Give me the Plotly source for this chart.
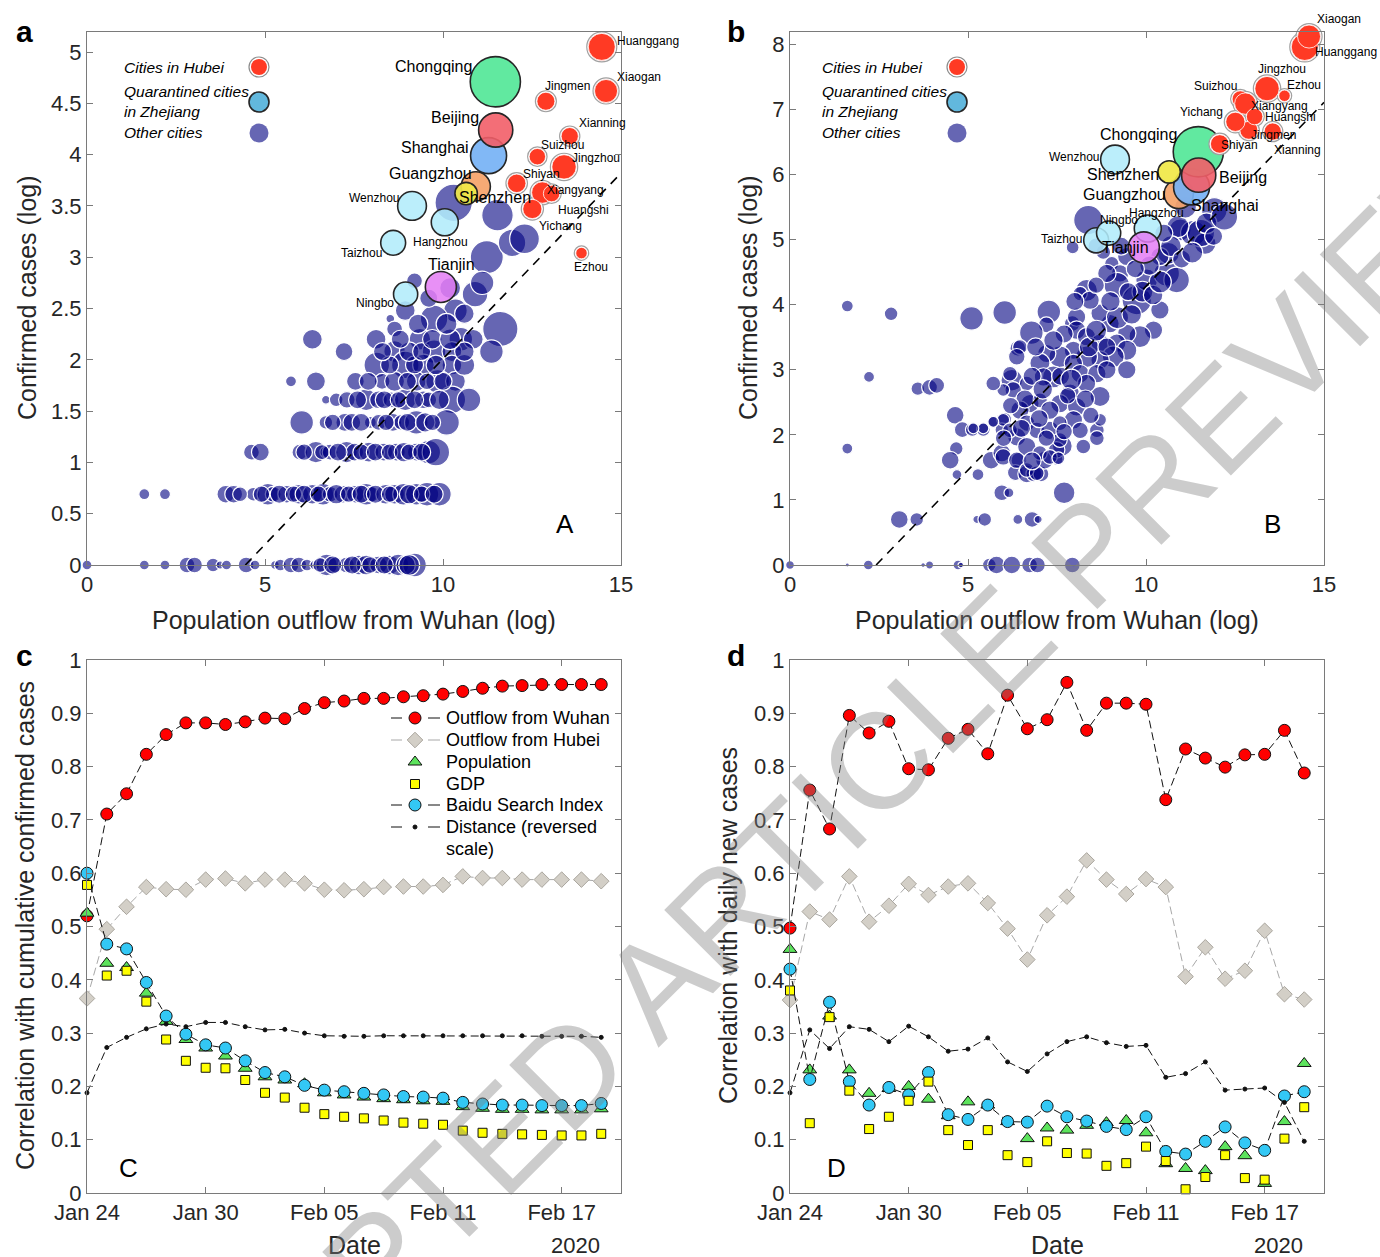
import numpy as np
import pandas as pd
import plotly.graph_objects as go

W, H = 1380, 1257
FONT = "Liberation Sans, Arial, Helvetica, sans-serif"
INK = "#262626"
AXIS = "#7a7a7a"

# ---------------- panels a / b : city-level data ----------------
# log outflow from Wuhan (shared), log confirmed cases (a and b), population (millions)
hubei_names = ["Huanggang", "Xiaogan", "Jingmen", "Xianning", "Suizhou", "Jingzhou",
               "Shiyan", "Xiangyang", "Huangshi", "Yichang", "Ezhou"]
hubei_outflow = [14.46, 14.58, 12.89, 13.56, 12.65, 13.40, 12.07, 12.79, 13.05, 12.51, 13.89]
hubei_cases_a = [5.05, 4.62, 4.52, 4.18, 3.98, 3.88, 3.72, 3.63, 3.62, 3.47, 3.04]
hubei_cases_b = [7.96, 8.12, 6.68, 6.66, 7.16, 7.32, 6.47, 7.09, 6.89, 6.81, 7.21]
hubei_pop = [8.1, 5.9, 3.6, 3.3, 3.0, 6.6, 3.8, 5.1, 3.0, 4.1, 1.45]

zj_names = ["Wenzhou", "Hangzhou", "Taizhou", "Ningbo"]
zj_outflow = [9.13, 10.05, 8.60, 8.95]
zj_cases_a = [3.50, 3.34, 3.14, 2.64]
zj_cases_b = [6.23, 5.17, 4.99, 5.10]
zj_pop = [9.2, 8.1, 6.9, 6.5]

big_names = ["Tianjin", "Guangzhou", "Shanghai", "Chongqing", "Shenzhen", "Beijing"]
big_outflow = [9.94, 10.92, 11.28, 11.47, 10.65, 11.48]
big_cases_a = [2.71, 3.69, 3.99, 4.71, 3.62, 4.24]
big_cases_b = [4.88, 5.70, 5.81, 6.35, 6.04, 5.99]
big_pop = [10.7, 9.5, 14.4, 28.0, 5.6, 13.0]

# other cities, panel a
other_a_x = [10.30, 11.53, 11.23, 11.94, 12.29, 9.20, 10.90, 8.94, 10.35, 9.75, 8.52, 11.61, 8.64,
             10.50, 10.85, 8.12, 9.35, 6.33, 11.36, 7.22, 8.64, 9.75, 10.25,
             8.14, 8.94, 9.45, 10.25,
             5.73, 6.43, 7.54, 8.29, 8.64, 9.25, 9.85, 10.35,
             6.71, 7.00, 7.84, 8.19, 8.54, 8.94, 9.45, 9.60, 10.25, 10.73,
             6.03, 6.71, 7.24, 7.44, 7.96, 8.19, 8.59, 8.84, 9.25, 10.10,
             4.62, 4.87, 5.98, 6.43, 6.71, 6.83, 7.29, 7.52, 7.92, 8.34, 8.69, 9.25, 9.60, 9.80,
             1.61, 2.19, 3.90, 4.12, 4.67, 5.08, 5.23, 5.61, 5.95, 6.33, 6.63, 6.83, 7.19, 7.54,
             7.84, 7.99, 8.39, 8.64, 8.89, 9.25, 9.55, 9.90,
             0.00, 1.61, 2.19, 2.81, 3.02, 3.54, 3.74, 3.92, 4.47, 4.72, 5.28, 5.43, 5.73, 5.95,
             6.18, 6.40, 6.73, 6.98, 7.29, 7.64, 7.84, 8.19, 8.49, 8.74, 9.20,
             4.30, 4.90, 5.40, 5.80, 6.10, 6.50, 7.00, 7.35, 7.70, 8.10, 8.50, 9.05, 9.40, 9.75,
             6.10, 6.60, 7.05, 7.70, 8.10, 8.50, 8.90, 9.05, 9.40,
             6.90, 7.70, 8.40, 9.00, 9.50, 9.70,
             7.30, 7.60, 8.35, 8.75, 9.20, 9.90,
             7.90, 9.00, 9.55, 10.00,
             8.50, 9.20, 9.80, 10.60,
             8.30, 9.05, 9.40, 10.60,
             8.80, 9.70, 10.20,
             9.30, 10.10, 10.60, 9.60, 10.20, 11.10,
             6.55, 6.90, 7.45, 7.95, 8.35, 8.95, 9.05]
other_a_y = [3.53, 3.41, 3.00, 3.14, 3.18, 2.77, 2.64, 2.48, 2.48, 2.40, 2.40, 2.30, 2.30,
             2.20, 2.20, 2.20, 2.20, 2.20, 2.08, 2.08, 2.08, 2.08, 2.08,
             1.95, 1.95, 1.95, 1.95,
             1.79, 1.79, 1.79, 1.79, 1.79, 1.79, 1.79, 1.79,
             1.61, 1.61, 1.61, 1.61, 1.61, 1.61, 1.61, 1.61, 1.61, 1.61,
             1.39, 1.39, 1.39, 1.39, 1.39, 1.39, 1.39, 1.39, 1.39, 1.39,
             1.10, 1.10, 1.10, 1.10, 1.10, 1.10, 1.10, 1.10, 1.10, 1.10, 1.10, 1.10, 1.10, 1.10,
             0.69, 0.69, 0.69, 0.69, 0.69, 0.69, 0.69, 0.69, 0.69, 0.69, 0.69, 0.69, 0.69, 0.69,
             0.69, 0.69, 0.69, 0.69, 0.69, 0.69, 0.69, 0.69,
             0, 0, 0, 0, 0, 0, 0, 0, 0, 0, 0, 0, 0, 0,
             0, 0, 0, 0, 0, 0, 0, 0, 0, 0, 0,
             0.69, 0.69, 0.69, 0.69, 0.69, 0.69, 0.69, 0.69, 0.69, 0.69, 0.69, 0.69, 0.69, 0.69,
             1.10, 1.10, 1.10, 1.10, 1.10, 1.10, 1.10, 1.10, 1.10,
             1.39, 1.39, 1.39, 1.39, 1.39, 1.39,
             1.61, 1.61, 1.61, 1.61, 1.61, 1.61,
             1.79, 1.79, 1.79, 1.79,
             1.95, 1.95, 1.95, 1.95,
             2.08, 2.08, 2.08, 2.08,
             2.20, 2.20, 2.20,
             2.35, 2.35, 2.45, 2.60, 2.70, 2.75,
             0, 0, 0, 0, 0, 0, 0]
other_a_pop = [12.8, 9.1, 10.0, 6.9, 8.1, 2.3, 6.0, 3.6, 5.1, 6.9, 0.7, 11.4, 2.3,
               5.1, 3.6, 3.6, 4.3, 3.6, 5.1, 2.9, 4.3, 5.1, 3.6,
               6.0, 6.9, 4.3, 3.6,
               1.1, 3.3, 2.9, 2.3, 3.6, 3.6, 5.1, 3.6,
               0.7, 1.7, 4.3, 2.9, 2.3, 4.3, 2.9, 2.3, 6.9, 5.1,
               5.1, 1.7, 2.9, 2.9, 1.3, 2.3, 2.9, 2.3, 5.1, 6.0,
               2.3, 2.9, 2.3, 4.3, 1.3, 2.3, 4.3, 2.9, 3.6, 2.9, 2.9, 2.9, 5.1, 6.9,
               1.1, 1.1, 2.9, 2.9, 1.7, 4.3, 2.3, 2.9, 3.6, 3.6, 4.3, 2.3, 2.9, 2.9,
               4.3, 2.3, 3.6, 3.6, 4.3, 4.3, 5.1, 5.1,
               0.9, 0.9, 0.9, 2.3, 2.3, 1.7, 0.6, 0.9, 2.3, 0.9, 0.7, 1.3, 2.3, 2.3,
               1.3, 0.9, 4.3, 2.3, 2.3, 3.6, 3.6, 2.9, 3.6, 4.3, 5.1,
               2.0, 2.5, 3.0, 2.5, 3.0, 2.5, 3.5, 2.5, 3.0, 3.0, 2.5, 3.5, 2.5, 3.0,
               2.5, 2.0, 3.0, 2.5, 3.0, 2.5, 3.5, 2.5, 3.0,
               2.5, 3.0, 2.5, 3.0, 3.5, 2.5,
               2.5, 3.0, 3.0, 2.5, 3.0, 3.5,
               3.0, 3.0, 2.5, 3.0,
               3.0, 3.0, 3.5, 4.0,
               3.0, 3.5, 3.0, 3.5,
               3.0, 3.5, 4.0,
               3.5, 4.0, 3.5, 3.0, 4.0, 5.0,
               2.0, 3.0, 3.0, 2.5, 3.0, 3.5, 4.0]

# other cities, panel b
other_b_x = [1.61, 2.84, 5.10, 6.03, 7.27, 7.20, 6.78, 7.93,
             2.22, 3.59, 3.92, 4.12, 1.61,
             4.64, 4.84, 5.12, 5.43, 5.73, 6.03, 5.95, 6.23, 6.40,
             4.67, 4.50, 4.69, 5.28, 5.65, 5.95, 6.43, 6.33, 6.65, 6.85, 7.05, 7.15, 7.50, 7.65,
             5.95, 6.15, 7.70,
             3.07, 3.56, 5.25, 5.47, 6.40, 6.80, 6.97,
             0.00, 1.61, 2.20, 3.74, 3.92, 4.72, 4.80, 5.60, 5.80, 6.23, 6.73, 6.95, 7.93,
             8.38, 7.94, 8.33, 8.15, 9.04, 9.27, 9.18, 9.74, 10.02, 10.58, 10.86, 10.63, 10.96,
             11.33, 11.66, 10.39, 10.21, 9.83, 9.46, 8.99, 8.71, 8.43, 8.05, 8.05, 8.33, 8.71,
             9.18, 9.46, 9.08, 8.71, 8.33, 7.96, 7.58, 7.21, 6.46, 6.37, 7.02, 7.40, 7.96, 8.15,
             8.62, 8.90, 9.46, 8.71, 8.33, 7.87, 7.58, 8.05, 7.96, 8.15, 8.62, 8.62, 8.24, 7.12,
             6.65, 6.27, 6.18, 6.74, 7.02, 7.30, 6.46, 6.65, 6.93, 7.30, 7.58, 6.37, 6.65, 7.02,
             7.49, 7.58, 5.99, 5.71, 5.43, 5.15, 6.18, 5.99, 6.37, 6.65, 7.30, 7.54, 6.93, 8.71,
             5.99, 5.71, 9.46, 8.90, 8.80, 10.39,
             11.92, 11.54, 10.90, 11.11,
             6.80, 7.10, 7.60, 7.90, 8.40, 8.60, 8.90, 9.20, 9.60, 9.90, 10.20, 10.40, 9.50, 9.00,
             8.60, 8.00, 7.70, 7.40, 6.90, 6.60, 6.20, 6.00, 6.50, 7.00, 7.80, 8.30, 8.45, 7.70,
             6.80, 7.20, 10.70, 10.10, 9.70, 11.00, 11.30, 10.50, 11.70, 12.20, 11.90, 9.30, 8.60]
other_b_y = [3.98, 3.86, 3.79, 3.88, 3.89, 3.69, 3.57, 3.71,
             2.89, 2.71, 2.73, 2.76, 1.79,
             2.30, 2.08, 2.08, 2.08, 2.20, 2.24, 2.08, 2.84, 3.33,
             1.79, 1.61, 1.39, 1.39, 1.61, 1.72, 1.61, 1.42, 1.40, 1.40, 1.40, 1.61, 1.62, 1.83,
             1.11, 1.11, 1.11,
             0.70, 0.70, 0.70, 0.70, 0.70, 0.70, 0.70,
             0, 0, 0, 0, 0, 0, 0, 0, 0, 0, 0, 0, 0,
             5.30, 4.88, 4.22, 4.17, 4.63, 4.48, 4.30, 4.07, 4.38, 4.48, 4.38, 4.79, 5.15,
             5.10, 4.94, 3.92, 3.61, 3.51, 3.56, 3.71, 3.87, 4.07, 3.81, 3.61, 3.51, 3.41,
             3.41, 3.30, 3.20, 3.15, 3.20, 3.30, 3.20, 3.25, 3.35, 3.20, 3.10, 2.89, 3.10, 2.94,
             2.94, 3.00, 3.00, 2.59, 2.79, 2.64, 2.48, 2.43, 2.23, 2.07, 2.07, 1.95, 1.82, 2.89,
             2.79, 2.69, 2.94, 2.48, 2.53, 2.38, 2.38, 2.18, 2.07, 2.07, 2.18, 1.97, 1.82, 1.72,
             1.77, 1.92, 2.23, 2.20, 2.10, 2.10, 2.07, 1.66, 1.61, 1.46, 1.66, 1.64, 1.41, 2.23,
             2.69, 2.79, 4.74, 4.48, 4.81, 4.74,
             5.45, 5.10, 5.20, 5.50,
             2.90, 2.70, 2.90, 2.85, 3.35, 3.60, 3.35, 3.80, 3.85, 4.20, 4.15, 4.35, 4.20, 4.05,
             4.30, 4.05, 3.55, 3.45, 3.35, 2.55, 2.45, 1.95, 2.10, 2.25, 2.60, 2.55, 2.30, 2.05,
             1.60, 1.95, 4.90, 4.60, 4.55, 4.70, 4.80, 5.10, 5.25, 5.35, 5.05, 4.90, 4.90]
other_b_pop = [1.3, 1.7, 5.1, 5.1, 5.1, 2.3, 5.1, 2.3,
               1.1, 1.7, 2.3, 2.3, 1.1,
               2.9, 2.3, 1.7, 1.7, 1.3, 1.7, 1.7, 4.3, 2.3,
               1.7, 2.9, 0.9, 1.3, 2.9, 2.9, 2.3, 2.3, 2.9, 2.3, 2.3, 2.9, 1.3, 3.6,
               2.3, 0.9, 4.3,
               2.9, 1.7, 0.6, 1.7, 0.9, 2.3, 0.6,
               0.7, 0.15, 0.9, 0.2, 0.6, 0.9, 0.3, 1.7, 2.9, 2.9, 2.3, 2.3, 2.3,
               7.9, 1.5, 4.4, 1.9, 1.9, 2.8, 6.0, 7.9, 4.4, 6.0, 6.0, 4.4, 4.4,
               6.0, 4.4, 3.1, 3.1, 4.4, 3.1, 3.1, 3.1, 3.1, 3.1, 3.1, 3.1, 3.1,
               3.1, 3.7, 4.4, 3.1, 4.4, 3.1, 4.4, 3.1, 2.0, 2.5, 3.7, 4.4, 3.1, 3.1,
               3.1, 3.1, 3.1, 3.7, 3.1, 3.1, 3.1, 3.1, 3.1, 2.5, 2.0, 2.0, 2.0, 3.1,
               2.0, 2.5, 2.0, 3.1, 2.0, 3.1, 3.1, 2.5, 2.5, 3.1, 2.0, 3.1, 3.1, 2.0,
               2.5, 2.0, 1.5, 1.1, 1.1, 1.1, 2.0, 2.5, 2.5, 2.0, 2.0, 1.5, 2.0, 1.5,
               1.5, 2.0, 3.1, 3.1, 2.0, 3.1,
               6.0, 6.9, 4.4, 4.4,
               3.0, 3.5, 3.0, 4.0, 3.5, 4.0, 3.0, 4.5, 3.5, 4.0, 3.5, 4.5, 3.0, 3.5,
               2.5, 3.0, 3.0, 3.5, 3.0, 3.0, 2.5, 2.5, 3.0, 3.0, 2.5, 3.0, 2.5, 2.5,
               3.0, 2.5, 4.0, 3.5, 3.0, 3.0, 4.0, 3.0, 4.0, 6.5, 3.0, 3.0, 2.5]

# linear fits (slope, intercept) drawn as dashed lines
fit_a = (0.362, -1.61)
fit_b = (0.565, -1.367)

# ---------------- panels c / d : daily correlations ----------------
dates = pd.date_range("2020-01-24", "2020-02-19", freq="D")

cum_wuhan = [0.520, 0.711, 0.749, 0.823, 0.860, 0.882, 0.882, 0.879, 0.884, 0.891, 0.890, 0.909, 0.920,
             0.923, 0.928, 0.928, 0.931, 0.933, 0.936, 0.941, 0.947, 0.951, 0.952, 0.954, 0.954, 0.954, 0.954]
cum_hubei = [0.365, 0.495, 0.537, 0.574, 0.570, 0.569, 0.588, 0.590, 0.581, 0.588, 0.588, 0.581, 0.569,
             0.568, 0.570, 0.574, 0.575, 0.575, 0.578, 0.594, 0.591, 0.591, 0.588, 0.588, 0.588, 0.588, 0.585]
cum_pop = [0.525, 0.431, 0.423, 0.375, 0.322, 0.288, 0.272, 0.257, 0.234, 0.218, 0.212, 0.205, 0.188,
           0.184, 0.180, 0.177, 0.175, 0.173, 0.172, 0.162, 0.159, 0.157, 0.157, 0.156, 0.156, 0.156, 0.158]
cum_gdp = [0.578, 0.408, 0.417, 0.359, 0.288, 0.248, 0.235, 0.234, 0.212, 0.188, 0.179, 0.160, 0.148,
           0.143, 0.140, 0.136, 0.132, 0.130, 0.128, 0.117, 0.113, 0.111, 0.110, 0.109, 0.108, 0.108, 0.111]
cum_baidu = [0.600, 0.467, 0.458, 0.395, 0.332, 0.298, 0.278, 0.272, 0.248, 0.226, 0.218, 0.202, 0.193,
             0.190, 0.187, 0.184, 0.181, 0.180, 0.178, 0.170, 0.167, 0.165, 0.165, 0.164, 0.164, 0.164, 0.168]
cum_dist = [0.188, 0.273, 0.292, 0.308, 0.317, 0.312, 0.320, 0.320, 0.312, 0.306, 0.307, 0.300, 0.295,
            0.294, 0.294, 0.295, 0.295, 0.295, 0.295, 0.295, 0.295, 0.295, 0.295, 0.294, 0.294, 0.294, 0.292]

new_wuhan = [0.497, 0.756, 0.683, 0.896, 0.863, 0.885, 0.796, 0.794, 0.853, 0.870, 0.824, 0.934, 0.871,
             0.888, 0.958, 0.868, 0.919, 0.919, 0.917, 0.738, 0.833, 0.816, 0.799, 0.822, 0.823, 0.868, 0.788]
new_hubei = [0.362, 0.528, 0.513, 0.594, 0.509, 0.539, 0.580, 0.559, 0.575, 0.581, 0.544, 0.496, 0.438,
             0.521, 0.556, 0.624, 0.588, 0.561, 0.589, 0.574, 0.406, 0.461, 0.402, 0.417, 0.492, 0.373, 0.363]
new_pop = [0.457, 0.231, 0.332, 0.231, 0.187, 0.196, 0.200, 0.176, 0.145, 0.171, 0.165, 0.134, 0.102,
           0.122, 0.118, 0.127, 0.132, 0.136, 0.113, 0.055, 0.046, 0.042, 0.087, 0.070, 0.018, 0.134, 0.243]
new_gdp = [0.380, 0.131, 0.330, 0.192, 0.120, 0.143, 0.173, 0.209, 0.118, 0.090, 0.118, 0.071, 0.058,
           0.097, 0.075, 0.074, 0.051, 0.056, 0.087, 0.060, 0.007, 0.030, 0.071, 0.028, 0.025, 0.102, 0.161]
new_baidu = [0.420, 0.213, 0.358, 0.209, 0.165, 0.198, 0.184, 0.226, 0.147, 0.138, 0.165, 0.134, 0.133,
             0.163, 0.143, 0.135, 0.125, 0.119, 0.143, 0.078, 0.073, 0.097, 0.124, 0.094, 0.080, 0.182, 0.190]
new_dist = [0.188, 0.306, 0.271, 0.312, 0.307, 0.284, 0.313, 0.293, 0.266, 0.270, 0.291, 0.246, 0.228,
            0.261, 0.284, 0.293, 0.282, 0.275, 0.277, 0.217, 0.224, 0.246, 0.193, 0.195, 0.197, 0.170, 0.097]

# ---------------- styles ----------------
BIG_COLORS = {"Tianjin": "rgba(228,125,245,0.85)", "Guangzhou": "rgba(245,163,105,0.92)",
              "Shanghai": "rgba(118,178,245,0.92)", "Chongqing": "rgba(88,232,155,0.95)",
              "Shenzhen": "rgba(240,232,70,0.92)", "Beijing": "rgba(242,94,104,0.9)"}
BIG_LABELS = {"Tianjin", "Guangzhou", "Shanghai", "Chongqing", "Shenzhen", "Beijing"}
OTHER_SCALE = 1.1  # bubble diameter factor for the "other cities" layer

# label placement: name -> (xanchor, xshift px, yshift px)
LABELS_A = {
    "Huanggang": ("left", 14, 6), "Xiaogan": ("left", 10, 14), "Jingmen": ("center", 22, 15),
    "Xianning": ("left", 8, 13), "Suizhou": ("left", 3, 12), "Jingzhou": ("left", 7, 9),
    "Shiyan": ("left", 5, 9), "Xiangyang": ("left", 4, 3), "Huangshi": ("left", 5, -16),
    "Yichang": ("left", 6, -17), "Ezhou": ("center", 10, -14),
    "Chongqing": ("right", -22, 15), "Beijing": ("right", -16, 12), "Shanghai": ("right", -19, 8),
    "Guangzhou": ("right", -3, 13), "Shenzhen": ("left", -8, -4), "Wenzhou": ("right", -12, 8),
    "Hangzhou": ("center", -4, -20), "Taizhou": ("right", -10, -10), "Tianjin": ("center", 11, 22),
    "Ningbo": ("right", -11, -9),
}
LABELS_B = {
    "Huanggang": ("left", 9, -5), "Xiaogan": ("left", 7, 18), "Jingmen": ("left", 1, -5),
    "Xianning": ("left", 0, -18), "Suizhou": ("center", -25, 13), "Jingzhou": ("center", 15, 20),
    "Shiyan": ("left", 0, -1), "Xiangyang": ("left", 5, -2), "Huangshi": ("left", 9, 0),
    "Yichang": ("right", -11, 10), "Ezhou": ("center", 20, 11),
    "Chongqing": ("right", -20, 17), "Beijing": ("left", 19, -2), "Shanghai": ("left", -2, -19),
    "Guangzhou": ("right", -12, 0), "Shenzhen": ("right", -9, -3), "Wenzhou": ("right", -15, 3),
    "Hangzhou": ("center", 9, 16), "Taizhou": ("right", -13, 1), "Tianjin": ("center", -18, 0),
    "Ningbo": ("center", 10, 13),
}


def diam(pop, k=1.0, extra=0.0):
    return [float(np.sqrt(p * 90.0)) * k + extra for p in pop]


fig = go.Figure()
annotations = []
shapes = []


def bubbles(x, y, pop, fill, edge, edge_w, sfx, k=1.0, extra=0.0):
    fig.add_trace(go.Scatter(
        x=x, y=y, mode="markers", xaxis="x" + sfx, yaxis="y" + sfx, cliponaxis=False,
        marker=dict(size=diam(pop, k, extra), sizemode="diameter", color=fill, opacity=1,
                    line=dict(color=edge, width=edge_w)),
        showlegend=False, hoverinfo="skip"))


def fit_line(fit, sfx):
    slope, icpt = fit
    x0 = -icpt / slope
    fig.add_trace(go.Scatter(
        x=[x0, 15], y=[0, slope * 15 + icpt], mode="lines", xaxis="x" + sfx, yaxis="y" + sfx,
        line=dict(color="black", width=1.6, dash="9px,7px"), showlegend=False, hoverinfo="skip"))


def city_labels(names, xs, ys, placement, xr, yr):
    for n, xv, yv in zip(names, xs, ys):
        anchor, dx, dy = placement[n]
        annotations.append(dict(
            x=xv, y=yv, xref=xr, yref=yr, text=n, showarrow=False, xanchor=anchor, yanchor="middle",
            xshift=dx, yshift=dy, borderpad=0,
            font=dict(family=FONT, size=16 if n in BIG_LABELS else 12, color="black")))


for sfx, cases_o, ox, opop, hub_y, zj_y, big_y, fit, lab, xr, yr in [
    ("", other_a_y, other_a_x, other_a_pop, hubei_cases_a, zj_cases_a, big_cases_a, fit_a, LABELS_A, "x", "y"),
    ("2", other_b_y, other_b_x, other_b_pop, hubei_cases_b, zj_cases_b, big_cases_b, fit_b, LABELS_B, "x2", "y2"),
]:
    bubbles(ox, cases_o, opop, "rgba(0,0,128,0.6)", "white", 1.2, sfx, OTHER_SCALE)
    fit_line(fit, sfx)
    bubbles(zj_outflow, zj_y, zj_pop, "rgba(178,236,250,0.88)", "#262626", 1.6, sfx)
    bubbles(big_outflow, big_y, big_pop, [BIG_COLORS[n] for n in big_names], "#262626", 1.6, sfx)
    # Hubei cities: grey outer ring, white inner ring, red fill
    bubbles(hubei_outflow, hub_y, hubei_pop, "white", "rgb(160,160,160)", 1.2, sfx, extra=3.0)
    bubbles(hubei_outflow, hub_y, hubei_pop, "rgb(255,58,36)", "white", 0.8, sfx)
    city_labels(zj_names, zj_outflow, zj_y, lab, xr, yr)
    city_labels(big_names, big_outflow, big_y, lab, xr, yr)
    city_labels(hubei_names, hubei_outflow, hub_y, lab, xr, yr)

# ---------------- panels c / d ----------------
series_style = [
    # key, cum, new, symbol, size, fill, edge, line colour, draw line
    ("hubei", cum_hubei, new_hubei, "diamond", 12, "#d3cfc7", "#aaa69e", "#a8a8a8", True),
    ("wuhan", cum_wuhan, new_wuhan, "circle", 12, "#ff0000", "#111111", "#111111", True),
    ("pop", cum_pop, new_pop, "triangle-up", 12, "#5ce35c", "#111111", None, False),
    ("baidu", cum_baidu, new_baidu, "circle", 12, "#33c8f5", "#111111", "#111111", True),
    ("gdp", cum_gdp, new_gdp, "square", 9, "#ffff00", "#111111", None, False),
    ("dist", cum_dist, new_dist, "circle", 4, "#111111", "#111111", "#111111", True),
]
STYLE = {}
for key, cum, new, sym, size, fill, edge, lc, has_line in series_style:
    STYLE[key] = (sym, size, fill, edge, lc, has_line)
    for sfx, vals in [("3", cum), ("4", new)]:
        fig.add_trace(go.Scatter(
            x=dates, y=vals, xaxis="x" + sfx, yaxis="y" + sfx, cliponaxis=False,
            mode="lines+markers" if has_line else "markers",
            line=dict(color=lc or "black", width=1, dash="8px,4px"),
            marker=dict(symbol=sym, size=size, color=fill, opacity=1, line=dict(color=edge, width=1)),
            showlegend=False, hoverinfo="skip"))

# ---------------- hand-built legend for panel c (pixel overlay) ----------------
legend_rows = [("wuhan", "Outflow from Wuhan", 718), ("hubei", "Outflow from Hubei", 740),
               ("pop", "Population", 762), ("gdp", "GDP", 784),
               ("baidu", "Baidu Search Index", 805), ("dist", "Distance (reversed", 827)]
for key, label, yp in legend_rows:
    sym, size, fill, edge, lc, has_line = STYLE[key]
    if has_line:
        for xa, xb in [(391, 402), (428, 440)]:
            fig.add_trace(go.Scatter(x=[xa, xb], y=[yp, yp], mode="lines", xaxis="x5", yaxis="y5",
                                     line=dict(color=lc, width=1), showlegend=False, hoverinfo="skip"))
    fig.add_trace(go.Scatter(x=[415], y=[yp], mode="markers", xaxis="x5", yaxis="y5", cliponaxis=False,
                             marker=dict(symbol=sym, size=size, color=fill, opacity=1,
                                         line=dict(color=edge, width=1)),
                             showlegend=False, hoverinfo="skip"))

# ---------------- axes ----------------
def px_x(p):
    return p / W


def px_y(p):
    return 1 - p / H


def axis(**kw):
    base = dict(showline=True, linecolor=AXIS, linewidth=1, mirror="ticks", ticks="inside",
                ticklen=6, tickcolor=AXIS, tickwidth=1, showgrid=False, zeroline=False,
                automargin=False, tickfont=dict(family=FONT, size=22, color=INK))
    base.update(kw)
    return base


dom_x_left = [px_x(87), px_x(621)]
dom_x_right = [px_x(790), px_x(1324)]
dom_y_top = [px_y(565), px_y(32)]
dom_y_bot = [px_y(1193), px_y(660)]
date_ticks = ["2020-01-24", "2020-01-30", "2020-02-05", "2020-02-11", "2020-02-17"]
date_range = ["2020-01-24", "2020-02-20"]

layout = dict(
    width=W, height=H, margin=dict(l=0, r=0, t=0, b=0, pad=0), autosize=False,
    paper_bgcolor="white", plot_bgcolor="rgba(0,0,0,0)",
    font=dict(family=FONT, color=INK), showlegend=False,
    xaxis=axis(domain=dom_x_left, range=[0, 15], tickvals=[0, 5, 10, 15], anchor="y"),
    yaxis=axis(domain=dom_y_top, range=[0, 5.195], dtick=0.5, tick0=0, anchor="x"),
    xaxis2=axis(domain=dom_x_right, range=[0, 15], tickvals=[0, 5, 10, 15], anchor="y2"),
    yaxis2=axis(domain=dom_y_top, range=[0, 8.19], dtick=1, tick0=0, anchor="x2"),
    xaxis3=axis(domain=dom_x_left, range=date_range, tickvals=date_ticks, tickformat="%b %d", anchor="y3"),
    yaxis3=axis(domain=dom_y_bot, range=[0, 1], dtick=0.1, tick0=0, anchor="x3"),
    xaxis4=axis(domain=dom_x_right, range=date_range, tickvals=date_ticks, tickformat="%b %d", anchor="y4"),
    yaxis4=axis(domain=dom_y_bot, range=[0, 1], dtick=0.1, tick0=0, anchor="x4"),
    xaxis5=dict(domain=[0, 1], range=[0, W], visible=False, fixedrange=True, anchor="y5", automargin=False),
    yaxis5=dict(domain=[0, 1], range=[H, 0], visible=False, fixedrange=True, anchor="x5", automargin=False),
)


def text(xp, yp, s, size, xanchor="center", angle=0, color=INK, yanchor="middle", align="center"):
    annotations.append(dict(x=px_x(xp), y=px_y(yp), xref="paper", yref="paper", text=s,
                            showarrow=False, xanchor=xanchor, yanchor=yanchor, textangle=angle,
                            align=align, font=dict(family=FONT, size=size, color=color)))


# legend text for panel c
for key, label, yp in legend_rows:
    text(444, yp, label, 18, xanchor="left", color="black")
text(444, 849, "scale)", 18, xanchor="left", color="black")

# axis titles
text(27, 298, "Confirmed cases (log)", 25, angle=-90)
text(748, 298, "Confirmed cases (log)", 25, angle=-90)
text(354, 620, "Population outflow from Wuhan (log)", 25)
text(1057, 620, "Population outflow from Wuhan (log)", 25)
text(25, 926, "Correlation with cumulative confirmed cases", 25, angle=-90)
text(728, 926, "Correlation with daily new cases", 25, angle=-90)
text(354, 1245, "Date", 25)
text(1057, 1245, "Date", 25)
text(602, 1245, "2020", 22, xanchor="right")
text(1305, 1245, "2020", 22, xanchor="right")

# panel letters
for xp, yp, s in [(24, 32, "a"), (736, 32, "b"), (24, 655, "c"), (736, 655, "d")]:
    text(xp, yp, "<b>%s</b>" % s, 30, color="black")
for xp, yp, s in [(565, 524, "A"), (1272, 524, "B"), (128, 1168, "C"), (836, 1168, "D")]:
    text(xp, yp, s, 26, color="black")


# in-panel legends for a and b
def circle(cx, cy, d, fill, edge, ew):
    shapes.append(dict(type="circle", xref="paper", yref="paper",
                       x0=px_x(cx - d / 2), x1=px_x(cx + d / 2), y0=px_y(cy + d / 2), y1=px_y(cy - d / 2),
                       fillcolor=fill, line=dict(color=edge, width=ew)))


for ox, cx in ((0, 259), (698, 957)):
    text(122 + ox, 67, "<i>Cities in Hubei</i>", 15.5, xanchor="left", color="black")
    text(122 + ox, 101, "<i>Quarantined cities<br>in Zhejiang</i>", 15.5, xanchor="left",
         color="black", align="left")
    text(122 + ox, 133, "<i>Other cities</i>", 15.5, xanchor="left", color="black")
    circle(cx, 67, 20, "white", "rgb(140,140,140)", 1.2)
    circle(cx, 67, 16, "rgb(255,58,36)", "rgba(0,0,0,0)", 0)
    circle(cx, 102, 20, "rgb(98,184,221)", "#262626", 1.6)
    circle(cx, 133, 19, "rgba(0,0,128,0.6)", "rgba(0,0,0,0)", 0)

# diagonal preview stamp across the figure
annotations.append(dict(x=px_x(790), y=px_y(850), xref="paper", yref="paper",
                        xanchor="center", yanchor="middle",
                        text="ACCEPTED ARTICLE PREVIEW", showarrow=False, textangle=-45,
                        font=dict(family=FONT, size=136, color="rgba(128,128,128,0.4)")))

layout["annotations"] = annotations
layout["shapes"] = shapes
fig.update_layout(**layout)
fig.write_html("out.html")
